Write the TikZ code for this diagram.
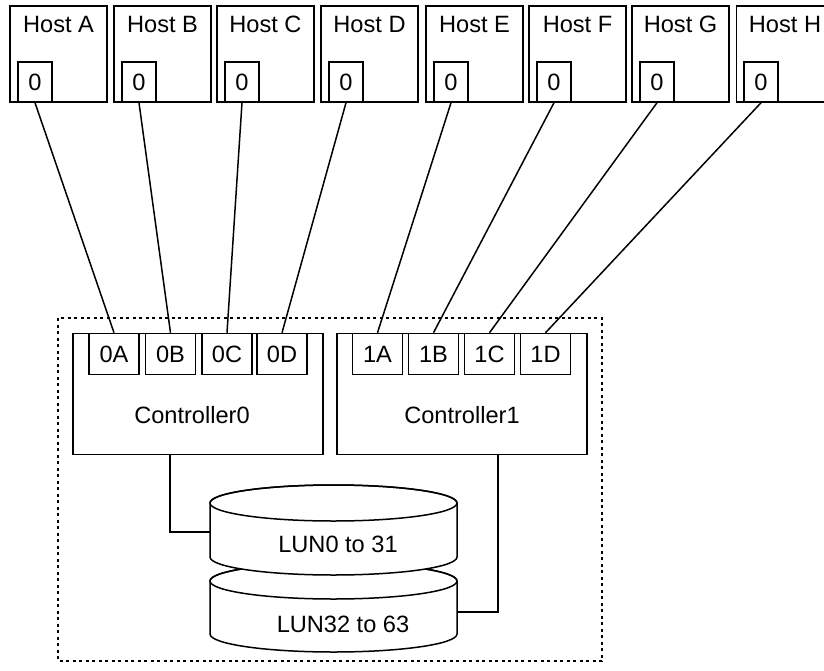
\documentclass[tikz,border=0pt]{standalone}
\usepackage{fontspec}
\setmainfont{Liberation Sans}
\usetikzlibrary{positioning}
\tikzset{
  host/.style={draw, minimum width=97pt, minimum height=96pt, inner sep=0pt},
  hport/.style={draw, fill=white, minimum width=34pt, minimum height=40pt, inner sep=0pt},
  ctrl/.style={draw, minimum width=250pt, minimum height=121pt, inner sep=0pt},
  cport/.style={draw, fill=white, minimum width=50pt, minimum height=41pt, inner sep=0pt},
  tag/.style={anchor=base, inner sep=0pt},
  lun/.style={draw, fill=white},
}

\begin{document}
\begin{tikzpicture}[x=1pt, y=-1pt, line width=1.5pt, font=\fontsize{23.6pt}{28pt}\selectfont]
\clip (0,0) rectangle (824,671);
% hosts
\node (hostA) at (58.5,54) [host] {};
\node (hostB) at (162.5,54) [host] {};
\node (hostC) at (265.5,54) [host] {};
\node (hostD) at (369.5,54) [host] {};
\node (hostE) at (474.5,54) [host] {};
\node (hostF) at (577.5,54) [host] {};
\node (hostG) at (680.5,54) [host] {};
\node (hostH) at (785,54) [host] {};
\node (tA) at (58.5,33) [tag] {Host A};
\node (tB) at (162.5,33) [tag] {Host B};
\node (tC) at (265.5,33) [tag] {Host C};
\node (tD) at (369.5,33) [tag] {Host D};
\node (tE) at (474.5,33) [tag] {Host E};
\node (tF) at (577.5,33) [tag] {Host F};
\node (tG) at (680.5,33) [tag] {Host G};
\node (tH) at (785,33) [tag] {Host H};
\node (pA) at (35,82) [hport] {0};
\node (pB) at (139,82) [hport] {0};
\node (pC) at (242,82) [hport] {0};
\node (pD) at (346,82) [hport] {0};
\node (pE) at (451,82) [hport] {0};
\node (pF) at (554,82) [hport] {0};
\node (pG) at (657,82) [hport] {0};
\node (pH) at (761,82) [hport] {0};
% storage
\draw[dash pattern=on 3pt off 3.5pt] (58,318) rectangle (602,661);
\node (ctrl0) at (198,394) [ctrl] {};
\node (ctrl1) at (462,394) [ctrl] {};
\node (t0) at (192,423) [tag] {Controller0};
\node (t1) at (462,423) [tag] {Controller1};
\node (c0A) at (114,354) [cport] {0A};
\node (c0B) at (170.5,354) [cport] {0B};
\node (c0C) at (227,354) [cport] {0C};
\node (c0D) at (282,354) [cport] {0D};
\node (c1A) at (377.5,354) [cport] {1A};
\node (c1B) at (433.5,354) [cport] {1B};
\node (c1C) at (489.5,354) [cport] {1C};
\node (c1D) at (545.5,354) [cport] {1D};
% disks
\draw[lun] (210,581) -- (210,634) arc[start angle=180, end angle=360, x radius=123.5pt, y radius=18pt]
  -- (457,581) arc[start angle=0, end angle=180, x radius=123.5pt, y radius=18pt] -- cycle;
\draw (333.5,581) ellipse[x radius=123.5pt, y radius=18pt];
\draw[lun] (210,503) -- (210,557) arc[start angle=180, end angle=360, x radius=123.5pt, y radius=18pt]
  -- (457,503) arc[start angle=0, end angle=180, x radius=123.5pt, y radius=18pt] -- cycle;
\draw (333.5,503) ellipse[x radius=123.5pt, y radius=18pt];
\node (l0) at (338,552) [tag] {LUN0 to 31};
\node (l1) at (343,632) [tag] {LUN32 to 63};
\coordinate (lun0) at (210,532);
\coordinate (lun1) at (457,612);
% links
\draw (pA.south) -- (c0A.north);
\draw (pB.south) -- (c0B.north);
\draw (pC.south) -- (c0C.north);
\draw (pD.south) -- (c0D.north);
\draw (pE.south) -- (c1A.north);
\draw (pF.south) -- (c1B.north);
\draw (pG.south) -- (c1C.north);
\draw (pH.south) -- (c1D.north);
\draw ([xshift=-28pt]ctrl0.south) |- (lun0);
\draw ([xshift=36pt]ctrl1.south) |- (lun1);
\end{tikzpicture}
\end{document}
